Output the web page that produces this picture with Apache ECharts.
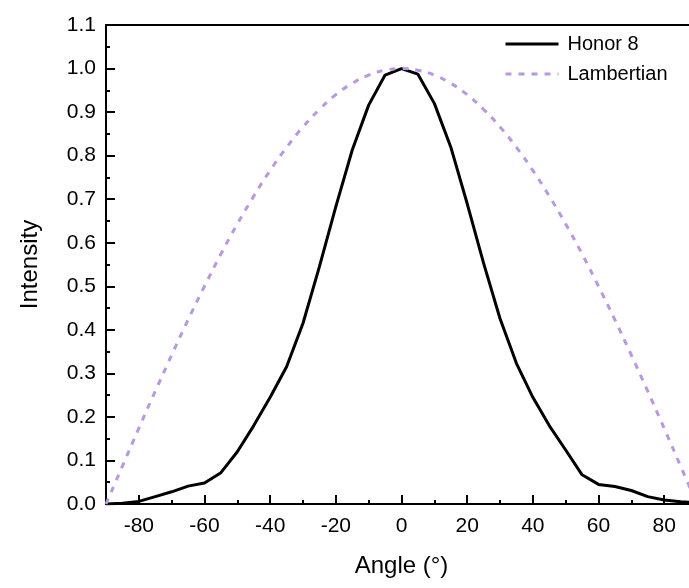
<!DOCTYPE html>
<html lang="en">

<head>
    <meta charset="UTF-8">
    <title>Angle vs Intensity</title>
    <script src="https://cdn.jsdelivr.net/npm/echarts@6/dist/echarts.min.js"></script>
    <style>
        html, body { margin: 0; padding: 0; background: #fff; }
    </style>
</head>

<body>
    <div id="chart" style="width: 689px; height: 588px;"></div>
    <script>
        // angles in degrees
        const angles = [-90, -85, -80, -75, -70, -65, -60, -55, -50, -45, -40, -35, -30, -25, -20, -15, -10, -5, 0,
            5, 10, 15, 20, 25, 30, 35, 40, 45, 50, 55, 60, 65, 70, 75, 80, 85, 90];

        // measured Honor 8 intensity
        const honor8 = [0, 0.002, 0.006, 0.017, 0.028, 0.041, 0.048, 0.072, 0.12, 0.18, 0.245, 0.315, 0.415, 0.545, 0.683, 0.813, 0.916, 0.985, 1.0,
            0.987, 0.92, 0.82, 0.69, 0.553, 0.426, 0.323, 0.245, 0.18, 0.124, 0.067, 0.045, 0.04, 0.031, 0.017, 0.009, 0.005, 0.003];

        // Lambertian reference
        const lambertian = [0, 0.087, 0.174, 0.259, 0.342, 0.423, 0.5, 0.574, 0.643, 0.707, 0.766, 0.819, 0.866, 0.906, 0.94, 0.966, 0.985, 0.996, 1.0,
            0.996, 0.985, 0.966, 0.94, 0.906, 0.866, 0.819, 0.766, 0.707, 0.643, 0.574, 0.5, 0.423, 0.342, 0.259, 0.174, 0.087, 0];

        const xMajorTicks = [-80, -60, -40, -20, 0, 20, 40, 60, 80];
        const xMinorTicks = [-90, -70, -50, -30, -10, 10, 30, 50, 70, 90];

        const font = "'Liberation Sans', Arial, sans-serif";
        const chart = echarts.init(document.getElementById('chart'));

        const pair = (xs, ys) => xs.map((x, i) => [x, ys[i]]);
        const axisColor = { color: '#000', width: 2 };

        chart.setOption({
            animation: false,
            grid: { left: 106, top: 25, width: 591, bottom: 84, outerBoundsMode: 'none', containLabel: false },
            legend: {
                orient: 'vertical',
                left: 499,
                top: 29,
                itemWidth: 53,
                itemHeight: 20,
                itemGap: 10,
                itemStyle: { opacity: 0 },
                lineStyle: { width: 3 },
                textStyle: { fontFamily: font, fontSize: 20, color: '#000', padding: [0, 0, 0, 4] },
                data: ['Honor 8', 'Lambertian']
            },
            xAxis: [{
                type: 'value',
                min: -90,
                max: 90,
                name: 'Angle (°)',
                nameLocation: 'middle',
                nameGap: 50,
                nameTextStyle: { fontFamily: font, fontSize: 24, color: '#000' },
                axisLine: { onZero: false, lineStyle: axisColor },
                axisTick: { inside: true, length: 9, customValues: xMajorTicks, lineStyle: axisColor },
                axisLabel: { customValues: xMajorTicks, margin: 12, fontFamily: font, fontSize: 21, color: '#000' },
                splitLine: { show: false }
            }, {
                type: 'value',
                min: -90,
                max: 90,
                position: 'bottom',
                axisLine: { show: false },
                axisTick: { inside: true, length: 4, customValues: xMinorTicks, lineStyle: axisColor },
                axisLabel: { show: false },
                splitLine: { show: false }
            }, {
                type: 'value',
                min: -90,
                max: 90,
                position: 'top',
                axisLine: { onZero: false, lineStyle: axisColor },
                axisTick: { show: false },
                axisLabel: { show: false },
                splitLine: { show: false }
            }],
            yAxis: {
                type: 'value',
                min: 0,
                max: 1.1,
                interval: 0.1,
                name: 'Intensity',
                nameLocation: 'middle',
                nameGap: 64,
                nameTextStyle: { fontFamily: font, fontSize: 24, color: '#000' },
                axisLine: { show: true, onZero: false, lineStyle: axisColor },
                axisTick: { inside: true, length: 9, lineStyle: axisColor },
                minorTick: { show: true, splitNumber: 2, length: 4, lineStyle: axisColor },
                axisLabel: { margin: 10, fontFamily: font, fontSize: 21, color: '#000', formatter: v => v.toFixed(1) },
                splitLine: { show: false }
            },
            series: [{
                name: 'Honor 8',
                type: 'line',
                data: pair(angles, honor8),
                showSymbol: false,
                symbol: 'none',
                lineStyle: { color: '#000', width: 3 },
                itemStyle: { color: '#000' }
            }, {
                name: 'Lambertian',
                type: 'line',
                data: pair(angles, lambertian),
                smooth: true,
                showSymbol: false,
                symbol: 'none',
                lineStyle: { color: '#b898e0', width: 3, type: [6, 7] },
                itemStyle: { color: '#b898e0' }
            }]
        });
    </script>
</body>

</html>
